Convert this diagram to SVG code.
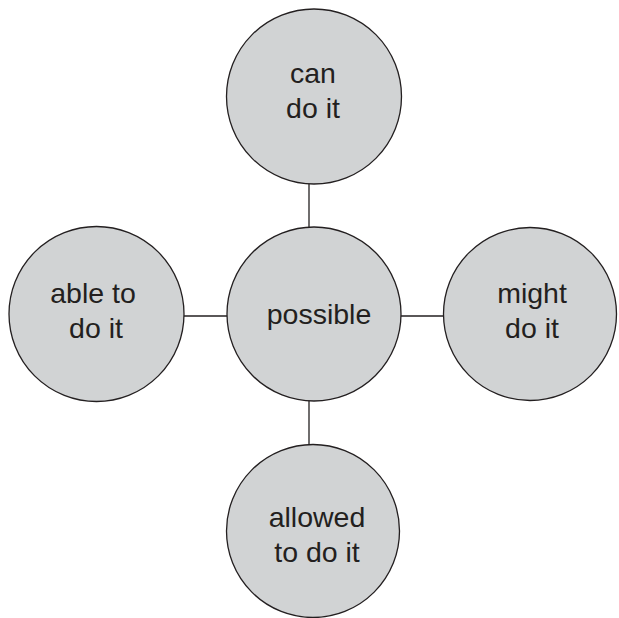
<svg xmlns="http://www.w3.org/2000/svg" width="619" height="618" viewBox="0 0 619 618">
<style>
.n{fill:#d1d3d4;stroke:#231f20;stroke-width:1.3}
.t{font-family:"Liberation Sans",Arial,sans-serif;font-size:28.5px;fill:#231f20;text-anchor:middle}
.c{stroke:#231f20;stroke-width:1.3;fill:none}
</style>
<rect width="619" height="618" fill="#fff"/>
<g id="connectors">
<line class="c" x1="309" y1="184" x2="309" y2="227"/>
<line class="c" x1="309" y1="401" x2="309" y2="445"/>
<line class="c" x1="184" y1="316" x2="227" y2="316"/>
<line class="c" x1="401" y1="316" x2="444" y2="316"/>
</g>
<g id="center">
<circle class="n" cx="314" cy="314" r="87"/>
<text class="t" x="319" y="324">possible</text>
</g>
<g id="top">
<circle class="n" cx="314" cy="96.5" r="87.5"/>
<text class="t" x="313" y="83">can</text>
<text class="t" x="313" y="118">do it</text>
</g>
<g id="left">
<circle class="n" cx="96.5" cy="314" r="87.5"/>
<text class="t" x="93" y="303">able to</text>
<text class="t" x="96" y="338">do it</text>
</g>
<g id="right">
<circle class="n" cx="530" cy="314" r="86.5"/>
<text class="t" x="532" y="303">might</text>
<text class="t" x="532" y="338">do it</text>
</g>
<g id="bottom">
<circle class="n" cx="313" cy="531" r="86.5"/>
<text class="t" x="317" y="527">allowed</text>
<text class="t" x="317" y="562">to do it</text>
</g>
</svg>
